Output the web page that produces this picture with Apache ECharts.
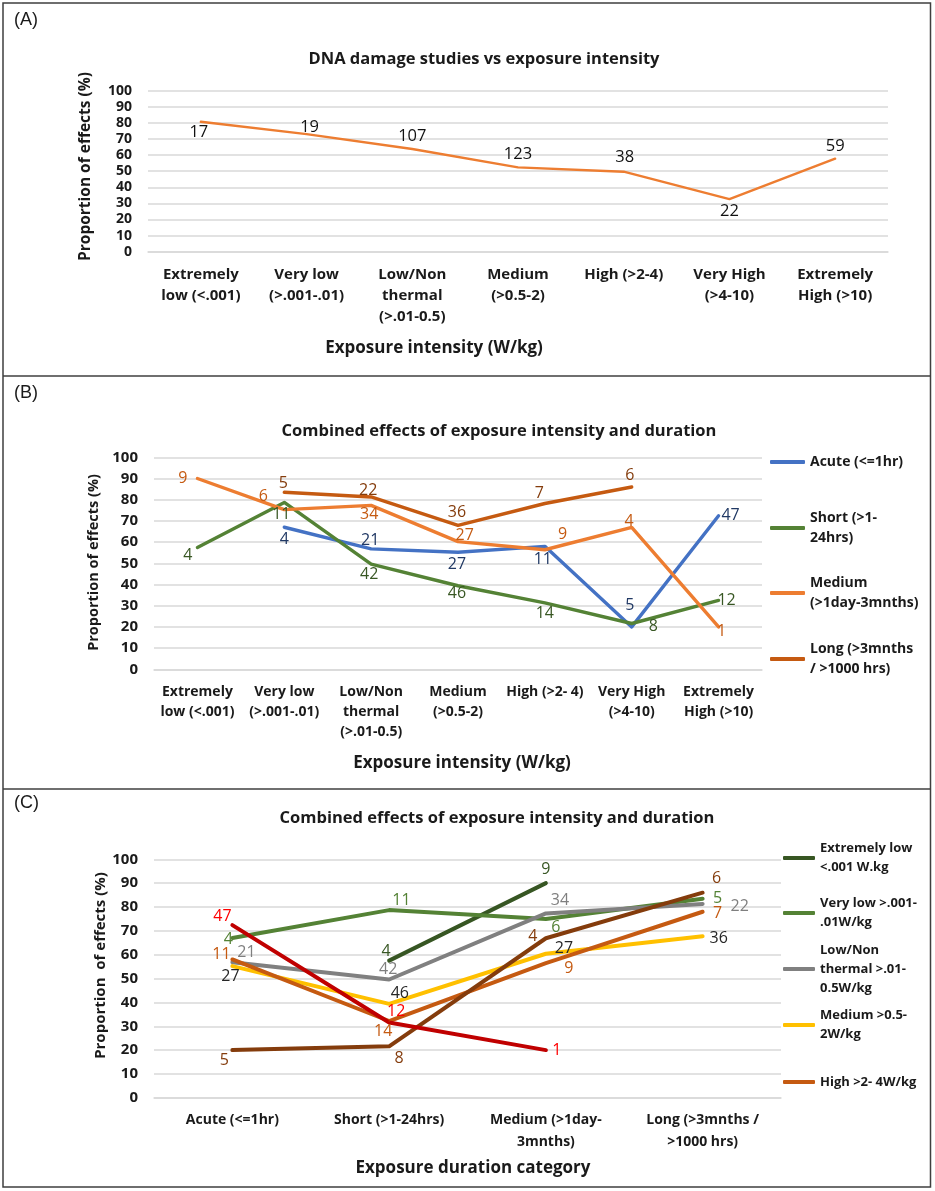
<!DOCTYPE html>
<html>
<head>
<meta charset="utf-8">
<script src="https://cdn.jsdelivr.net/npm/echarts/dist/echarts.min.js"></script>
<style>html,body{margin:0;padding:0;background:#fff}#c{width:935px;height:1191px}</style>
</head>
<body>
<div id="c"></div>
<script>
// ---------------- DATA ----------------
// Panel A
const catsA = ['Extremely\nlow (<.001)', 'Very low\n(>.001-.01)', 'Low/Non\nthermal\n(>.01-0.5)', 'Medium\n(>0.5-2)', 'High (>2-4)', 'Very High\n(>4-10)', 'Extremely\nHigh (>10)'];
const valuesA = [80.7, 73, 63.8, 52.4, 49.7, 32.7, 57.8];
const countsA = [17, 19, 107, 123, 38, 22, 59];

// Panel B (x = exposure intensity, series = exposure duration)
const catsB = ['Extremely\nlow (<.001)', 'Very low\n(>.001-.01)', 'Low/Non\nthermal\n(>.01-0.5)', 'Medium\n(>0.5-2)', 'High (>2- 4)', 'Very High\n(>4-10)', 'Extremely\nHigh (>10)'];
const namesB = ['Acute (<=1hr)', 'Short (>1-\n24hrs)', 'Medium\n(>1day-3mnths)', 'Long (>3mnths\n/ >1000 hrs)'];
const acuteB = [null, 67, 56.8, 55.2, 58, 20, 72.4];
const acuteCountsB = [null, 4, 21, 27, 11, 5, 47];
const shortB = [57.5, 78.7, 49.6, 39.4, 31.3, 21.6, 32.5];
const shortCountsB = [4, 11, 42, 46, 14, 8, 12];
const mediumB = [90, 75.3, 77.3, 60.2, 56.4, 66.9, 20];
const mediumCountsB = [9, 6, 34, 27, 9, 4, 1];
const longB = [null, 83.5, 81.3, 67.9, 78.2, 86, null];
const longCountsB = [null, 5, 22, 36, 7, 6, null];

// Panel C (x = exposure duration, series = exposure intensity)
const catsC = ['Acute (<=1hr)', 'Short (>1-24hrs)', 'Medium (>1day-\n3mnths)', 'Long (>3mnths /\n>1000 hrs)'];
const namesC = ['Extremely low\n<.001 W.kg', 'Very low >.001-\n.01W/kg', 'Low/Non\nthermal >.01-\n0.5W/kg', 'Medium >0.5-\n2W/kg', 'High >2- 4W/kg', 'Very High >4-10W/kg', 'Extremely High >10W/kg'];
const extLowC = [null, 57.5, 90, null];
const extLowCountsC = [null, 4, 9, null];
const veryLowC = [67, 78.7, 75, 83.5];
const veryLowCountsC = [4, 11, 6, 5];
const lowNonC = [56.8, 49.6, 77.3, 81.3];
const lowNonCountsC = [21, 42, 34, 22];
const mediumC = [55.2, 39.4, 60.4, 67.7];
const mediumCountsC = [27, 46, 27, 36];
const highC = [58, 32.2, 56.5, 78];
const highCountsC = [11, 14, 9, 7];
const veryHighC = [20, 21.6, 66.9, 86];
const veryHighCountsC = [5, 8, 4, 6];
const extHighC = [72.4, 31.6, 20, null];
const extHighCountsC = [47, 12, 1, null];

// ---------------- STYLE / LAYOUT ----------------
const F = "'Open Sans', sans-serif";
// label offsets (px) from each point, per series
const offA = [[-2,11],[3,-7],[0,-13],[0,-13],[1,-14],[0,12],[0,-12]];
const offAcuteB = [null,[0,12.5],[-1,-8.5],[-1,11.7],[-2,13],[-2,-21.7],[12,0]];
const offShortB = [[-9.5,8],[-3,11.7],[-2,10.5],[-1,8],[0,10.7],[21.7,2.5],[8,0]];
const offMediumB = [[-14.5,0],[-21,-13],[-2,9],[6.7,-6],[17.8,-15],[-2.7,-6],[3,5]];
const offLongB = [null,[-1,-9],[-3,-7],[-1,-13.3],[-5.5,-10.5],[-2,-11.4],null];
const offEL = [null,[-3,-9],[0,-13.4],null];
const offVL = [[-4,1],[12.3,-10],[10,9],[15,0]];
const offLN = [[14,-9.4],[-1,-10],[14,-13],[37,3]];
const offMed = [[-2,10.7],[10.7,-10.6],[18,-5],[16,2]];
const offHigh = [[-11,-5],[-6,10],[23,5],[15,2]];
const offVH = [[-8,10.7],[10,12.3],[-13,-2],[14,-14]];
const offEH = [[-10,-9],[7,-11],[11,0],null];

function lineSeries(name, idx, values, counts, offs, color, labelColor, width, fontSize) {
  return {
    type: 'line', name: name, xAxisIndex: idx, yAxisIndex: idx,
    data: values.map((v, i) => v == null ? null : { value: v, label: { offset: offs[i] || [0, 0] } }),
    symbol: 'circle', symbolSize: 1, showSymbol: true, showAllSymbol: true,
    connectNulls: false, silent: true,
    lineStyle: { color: color, width: width, cap: 'round', join: 'round' },
    itemStyle: { color: color },
    emphasis: { disabled: true },
    label: {
      show: true, position: 'inside', color: labelColor, fontFamily: F, fontSize: fontSize,
      formatter: p => String(counts[p.dataIndex])
    }
  };
}

function yAxis(idx, fs) {
  return {
    type: 'value', gridIndex: idx, min: 0, max: 100, interval: 10,
    axisLine: { show: false }, axisTick: { show: false },
    axisLabel: { margin: 16, color: '#1a1a1a', fontFamily: F, fontWeight: 'bold', fontSize: fs },
    splitLine: { lineStyle: { color: '#d9d9d9', width: 1.5 } }
  };
}
function xAxis(idx, cats, fs, lh, margin) {
  return {
    type: 'category', gridIndex: idx, data: cats, boundaryGap: true,
    axisLine: { show: true, lineStyle: { color: '#d9d9d9', width: 1.5 } }, axisTick: { show: false },
    axisLabel: { interval: 0, margin: margin, color: '#1a1a1a', fontFamily: F, fontWeight: 'bold', fontSize: fs, lineHeight: lh }
  };
}

function legendItem(name, left, top, iconW, fs, lh) {
  const n = name.split('\n').length;
  return {
    data: [name], left: left, top: top, orient: 'vertical', padding: 0,
    selectedMode: false, icon: 'roundRect', itemWidth: iconW, itemHeight: 4,
    textStyle: { fontFamily: F, fontSize: fs, fontWeight: 'bold', color: '#1a1a1a', lineHeight: lh, padding: [(n - 1) * lh, 0, 0, 0] }
  };
}
function legendTop(firstLineCenter, name, lh) {
  const n = name.split('\n').length;
  return firstLineCenter - (2 * n - 1) * lh / 2;
}

function txt(text, x, y, fs, weight, opts) {
  opts = opts || {};
  return {
    type: 'text', x: x, y: y, rotation: opts.rot || 0, silent: true,
    style: { text: text, fontFamily: opts.family || F, fontSize: fs, fontWeight: weight, fill: opts.fill || '#1a1a1a',
      align: opts.align || 'center', verticalAlign: 'middle' }
  };
}

const colB = ['#4472C4', '#548235', '#ED7D31', '#C55A11'];
const labB = ['#203864', '#385723', '#C55A11', '#843C0C'];
const colC = ['#375623', '#548235', '#808080', '#FFC000', '#C55A11', '#843C0C', '#C00000'];
const labC = ['#375623', '#548235', '#7F7F7F', '#262626', '#C55A11', '#843C0C', '#FF0000'];

const legendsB = [462, 528, 593, 659].map((c, i) => legendItem(namesB[i], 770, legendTop(c, namesB[i], 20), 35, 14, 20));
const legendsC = [858, 913, 969, 1025, 1082].map((c, i) => legendItem(namesC[i], 783, legendTop(c, namesC[i], 19), 32, 13, 19));

const option = {
  animation: false,
  backgroundColor: '#ffffff',
  grid: [
    { left: 148, top: 90.7, width: 740, height: 161 },
    { left: 154, top: 457.3, width: 608, height: 212 },
    { left: 154, top: 859.3, width: 627, height: 238.5 }
  ],
  xAxis: [ xAxis(0, catsA, 15, 21, 13), xAxis(1, catsB, 14, 20, 13), xAxis(2, catsC, 14, 22, 11) ],
  yAxis: [ yAxis(0, 14), yAxis(1, 15), yAxis(2, 15) ],
  legend: legendsB.concat(legendsC),
  series: [
    lineSeries('DNA damage', 0, valuesA, countsA, offA, '#ED7D31', '#111111', 2.4, 16.5),

    lineSeries(namesB[0], 1, acuteB, acuteCountsB, offAcuteB, colB[0], labB[0], 3.4, 16),
    lineSeries(namesB[1], 1, shortB, shortCountsB, offShortB, colB[1], labB[1], 3.4, 16),
    lineSeries(namesB[2], 1, mediumB, mediumCountsB, offMediumB, colB[2], labB[2], 3.4, 16),
    lineSeries(namesB[3], 1, longB, longCountsB, offLongB, colB[3], labB[3], 3.4, 16),

    lineSeries(namesC[0], 2, extLowC, extLowCountsC, offEL, colC[0], labC[0], 4, 16),
    lineSeries(namesC[1], 2, veryLowC, veryLowCountsC, offVL, colC[1], labC[1], 4, 16),
    lineSeries(namesC[2], 2, lowNonC, lowNonCountsC, offLN, colC[2], labC[2], 4, 16),
    lineSeries(namesC[3], 2, mediumC, mediumCountsC, offMed, colC[3], labC[3], 4, 16),
    lineSeries(namesC[4], 2, highC, highCountsC, offHigh, colC[4], labC[4], 4, 16),
    lineSeries(namesC[5], 2, veryHighC, veryHighCountsC, offVH, colC[5], labC[5], 4, 16),
    lineSeries(namesC[6], 2, extHighC, extHighCountsC, offEH, colC[6], labC[6], 4, 16)
  ],
  graphic: [
    { type: 'rect', silent: true, shape: { x: 3, y: 3, width: 927.5, height: 1184 }, style: { fill: 'none', stroke: '#3f3f3f', lineWidth: 1.5 } },
    { type: 'line', silent: true, shape: { x1: 3, y1: 376, x2: 930.5, y2: 376 }, style: { stroke: '#3f3f3f', lineWidth: 1.5 } },
    { type: 'line', silent: true, shape: { x1: 3, y1: 789, x2: 930.5, y2: 789 }, style: { stroke: '#3f3f3f', lineWidth: 1.5 } },

    txt('(A)', 14, 20, 18, 'normal', { align: 'left', family: "'Liberation Sans', Arial, sans-serif" }),
    txt('(B)', 14, 393, 18, 'normal', { align: 'left', family: "'Liberation Sans', Arial, sans-serif" }),
    txt('(C)', 14, 803, 18, 'normal', { align: 'left', family: "'Liberation Sans', Arial, sans-serif" }),

    txt('DNA damage studies vs exposure intensity', 484, 59, 16.5, 'bold'),
    txt('Combined effects of exposure intensity and duration', 499, 431, 16.5, 'bold'),
    txt('Combined effects of exposure intensity and duration', 497, 818, 16.5, 'bold'),

    txt('Exposure intensity (W/kg)', 434, 348, 17, 'bold'),
    txt('Exposure intensity (W/kg)', 462, 763, 17, 'bold'),
    txt('Exposure duration category', 473, 1168, 17, 'bold'),

    txt('Proportion of effects (%)', 86, 166.5, 15.5, 'bold', { rot: Math.PI / 2 }),
    txt('Proportion of effects (%)', 94, 562.5, 14.5, 'bold', { rot: Math.PI / 2 }),
    txt('Proportion  of effects (%)', 101, 965.5, 15, 'bold', { rot: Math.PI / 2 })
  ]
};

const chart = echarts.init(document.getElementById('c'), null, { renderer: 'canvas' });
chart.setOption(option);
</script>
</body>
</html>
